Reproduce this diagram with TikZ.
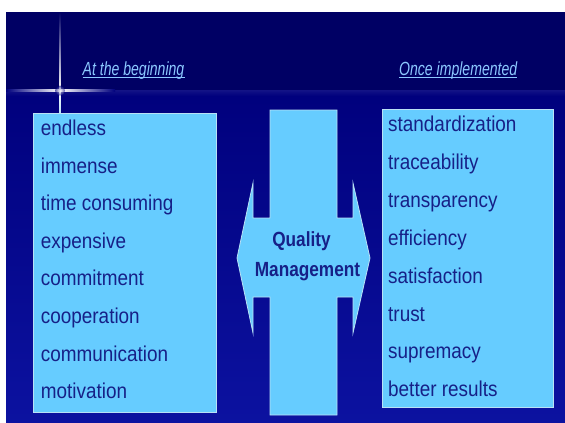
\documentclass[tikz,border=0pt]{standalone}
\usepackage{fontspec}
\setmainfont{Liberation Sans}
\newfontfamily\listfont[FakeStretch=0.88]{Liberation Sans}
\newfontfamily\hdrfont[FakeStretch=0.74]{Liberation Sans}
\newfontfamily\qmfont[FakeStretch=0.84]{Liberation Sans}
\definecolor{navytop}{RGB}{0,0,100}
\definecolor{navymid}{RGB}{0,0,125}
\definecolor{navybot}{RGB}{12,18,160}
\definecolor{boxfill}{RGB}{102,204,255}
\definecolor{boxline}{RGB}{185,225,245}
\definecolor{itemtext}{RGB}{22,32,135}
\definecolor{hdrtext}{RGB}{140,200,255}
\tikzset{
  listbox/.style={draw=boxline, line width=0.8pt, fill=boxfill, inner sep=0pt},
  item/.style={anchor=base west, inner sep=0pt, text=itemtext, font=\listfont\fontsize{21.5}{21.5}\selectfont},
  hdr/.style={anchor=base west, inner sep=0pt, text=hdrtext, font=\hdrfont\itshape\fontsize{19}{19}\selectfont},
  qm/.style={anchor=base, inner sep=0pt, text=itemtext, font=\qmfont\bfseries\fontsize{20.5}{20.5}\selectfont},
}
\begin{document}
\begin{tikzpicture}[x=1pt,y=-1pt]
\useasboundingbox (0,0) rectangle (565,423);
% background
\fill[white] (0,0) rectangle (565,423);
\fill[navytop] (6,12) rectangle (565,423);
\shade[top color=navymid, bottom color=navybot] (6,90) rectangle (565,423);
\shade[top color=navymid!70!white, bottom color=navymid, opacity=0.25] (6,90) rectangle (565,96);
% sparkle
\shade[top color=navytop, bottom color=white] (59.2,12) rectangle (60.8,90.5);
\shade[top color=white, bottom color=boxline] (59.2,90.5) rectangle (60.8,113);
\shade[left color=navymid, right color=white] (6,89.8) rectangle (60,91.4);
\shade[left color=white, right color=navymid] (60,89.8) rectangle (115,91.4);
\shade[inner color=white, outer color=navymid, opacity=0.6] (60,90.6) circle (5);
% headers
\node[hdr] (hA) at (82.5,75) {At the beginning};
\node[hdr] (hB) at (399,75) {Once implemented};
\draw[hdrtext, line width=0.8pt] ([yshift=-2.7pt]hA.base west) -- ([yshift=-2.7pt]hA.base east);
\draw[hdrtext, line width=0.8pt] ([yshift=-2.7pt]hB.base west) -- ([yshift=-2.7pt]hB.base east);
% boxes
\node[listbox, minimum width=183pt, minimum height=299pt] (lbox) at (124.5,262.5) {};
\node[listbox, minimum width=171pt, minimum height=298pt] (rbox) at (467.5,258) {};
% central cross/arrow
\draw[boxline, line width=0.8pt, fill=boxfill]
  (270,110) -- (337,110) -- (337,218) -- (353,218) -- (353,183) -- (370,258)
  -- (353,333) -- (353,297) -- (337,297) -- (337,415) -- (270,415) -- (270,297)
  -- (253,297) -- (253,333) -- (237,258) -- (253,183) -- (253,218) -- (270,218) -- cycle;
\node[qm] (q1) at (301.5,246.7) {Quality};
\node[qm] (q2) at (307.5,276.7) {Management};
% left items
\node[item] (l1) at (40.7,135.5) {endless};
\node[item] (l2) at (40.7,173.1) {immense};
\node[item] (l3) at (40.7,210.7) {time consuming};
\node[item] (l4) at (40.7,248.3) {expensive};
\node[item] (l5) at (40.7,285.9) {commitment};
\node[item] (l6) at (40.7,323.5) {cooperation};
\node[item] (l7) at (40.7,361.1) {communication};
\node[item] (l8) at (40.7,398.7) {motivation};
% right items
\node[item] (r1) at (388,131.7) {standardization};
\node[item] (r2) at (388,169.6) {traceability};
\node[item] (r3) at (388,207.4) {transparency};
\node[item] (r4) at (388,245.3) {efficiency};
\node[item] (r5) at (388,283.1) {satisfaction};
\node[item] (r6) at (388,321.0) {trust};
\node[item] (r7) at (388,358.8) {supremacy};
\node[item] (r8) at (388,396.7) {better results};
\end{tikzpicture}
\end{document}
